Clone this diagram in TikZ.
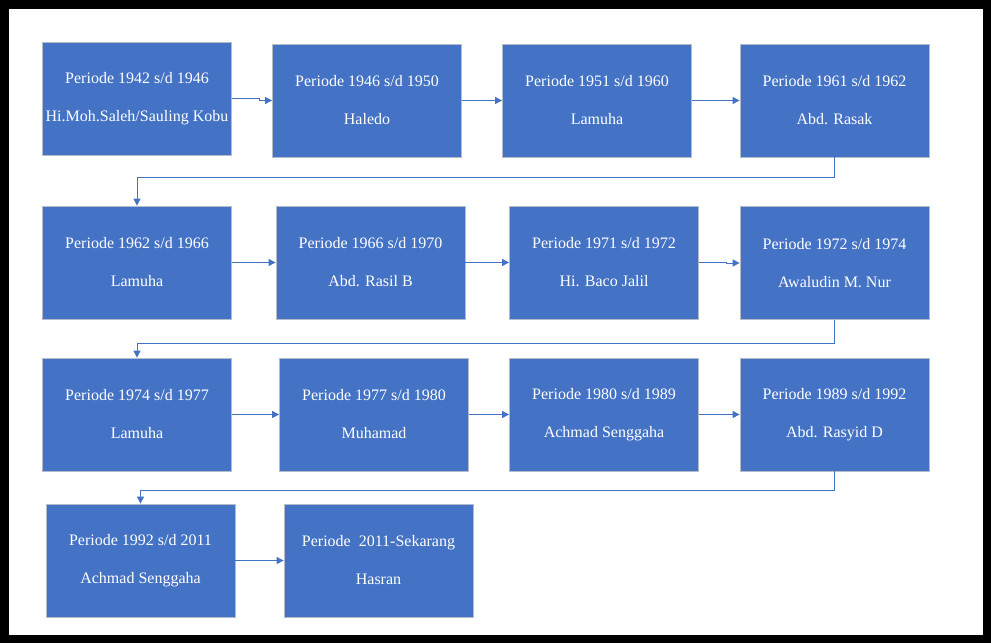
\documentclass[tikz,border=0pt]{standalone}
\usepackage{fontspec}
\setmainfont{Liberation Serif}
\usetikzlibrary{arrows.meta}
\definecolor{boxblue}{HTML}{4472C4}
\definecolor{edgegray}{HTML}{B4BCC8}
\begin{document}
\begin{tikzpicture}[x=1pt,y=-1pt,
  pbox/.style={rectangle, fill=boxblue, draw=edgegray, line width=0.8pt,
    minimum width=189pt, minimum height=113pt, inner sep=0pt,
    text=white, align=center, font=\fontsize{16}{38}\selectfont},
  conn/.style={draw=boxblue, line width=1pt, -{Triangle[length=7pt,width=7pt]}}]
\useasboundingbox (0,0) rectangle (991,643);
\fill[white] (0,0) rectangle (991,643);
\draw[line width=8.5pt, black] (4.25,4.25) rectangle (986.75,638.75);
% row 1
\node[pbox] (b1) at (137,98.5) {Periode 1942 s/d 1946\\Hi.Moh.Saleh/Sauling Kobu};
\node[pbox] (b2) at (367,100.5) {Periode 1946 s/d 1950\\Haledo};
\node[pbox] (b3) at (597,100.5) {Periode 1951 s/d 1960\\Lamuha};
\node[pbox] (b4) at (834.5,100.5) {Periode 1961 s/d 1962\\Abd. Rasak};
% row 2
\node[pbox] (b5) at (137,262.5) {Periode 1962 s/d 1966\\Lamuha};
\node[pbox] (b6) at (370.5,262.5) {Periode 1966 s/d 1970\\Abd. Rasil B};
\node[pbox] (b7) at (604,262.5) {Periode 1971 s/d 1972\\Hi. Baco Jalil};
\node[pbox] (b8) at (834.5,263) {Periode 1972 s/d 1974\\Awaludin M. Nur};
% row 3
\node[pbox] (b9) at (137,414.5) {Periode 1974 s/d 1977\\Lamuha};
\node[pbox] (b10) at (374,414.5) {Periode 1977 s/d 1980\\Muhamad};
\node[pbox] (b11) at (604,414.5) {Periode 1980 s/d 1989\\Achmad Senggaha};
\node[pbox] (b12) at (834.5,414.5) {Periode 1989 s/d 1992\\Abd. Rasyid D};
% row 4
\node[pbox] (b13) at (140.5,560.5) {Periode 1992 s/d 2011\\Achmad Senggaha};
\node[pbox] (b14) at (378.5,560.5) {Periode\ \ 2011-Sekarang\\Hasran};
% connectors
\draw[conn] (b1.east) -- ++(28,0) |- (b2.west);
\draw[conn] (b2) -- (b3);
\draw[conn] (b3) -- (b4);
\draw[conn] (b4.south) -- ++(0,20) -| (b5.north);
\draw[conn] (b5) -- (b6);
\draw[conn] (b6) -- (b7);
\draw[conn] (b7.east) -- ++(28,0) |- (b8.west);
\draw[conn] (b8.south) -- ++(0,24) -| (b9.north);
\draw[conn] (b9) -- (b10);
\draw[conn] (b10) -- (b11);
\draw[conn] (b11) -- (b12);
\draw[conn] (b12.south) -- ++(0,19) -| (b13.north);
\draw[conn] (b13) -- (b14);
\end{tikzpicture}
\end{document}
